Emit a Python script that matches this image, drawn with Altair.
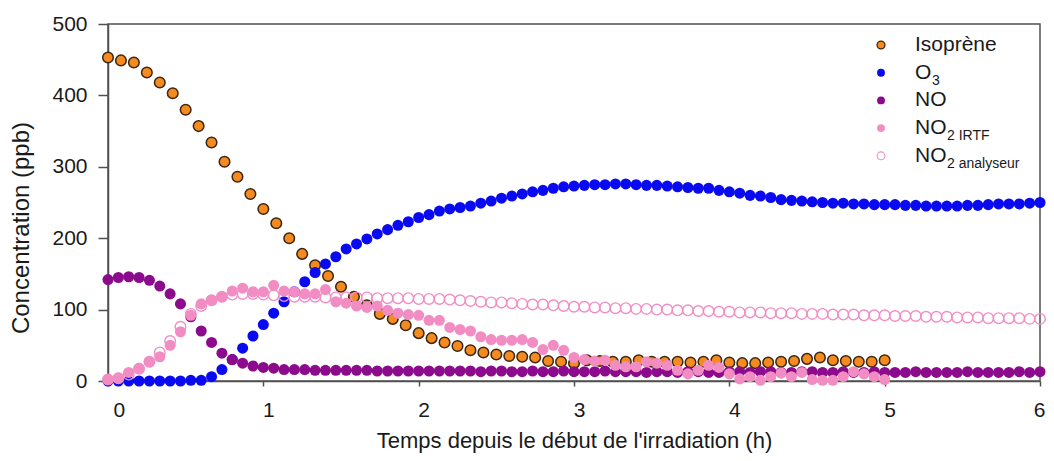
import altair as alt
import pandas as pd

# ---------------- data ----------------
ISO_STEP_H = 5 / 60     # isoprene sampled every 5 min
OTHER_STEP_H = 4 / 60   # other species sampled every 4 min

isoprene = [453, 449, 446, 432, 418, 403, 380, 357, 334, 307,
            286, 262, 241, 221, 200, 178, 162, 147, 132, 118,
            106, 94, 87, 78, 67, 60, 54, 49, 43, 40,
            37, 35, 34, 33, 28, 27, 25, 29, 28, 27,
            27, 29, 27, 27, 27, 26, 27, 29, 26, 25,
            25, 26, 27, 28, 31, 33, 29, 28, 27, 27, 29]

o3 = [0, 0, 0, 0, 0, 0, 0, 0, 1, 1,
      6, 16, 30, 46, 63, 79, 95, 111, 125, 139,
      152, 164, 174, 185, 192, 199, 206, 212, 218, 223,
      229, 233, 238, 241, 243, 245, 249, 252, 256, 259,
      262, 265, 267, 270, 272, 273, 274, 275, 275, 276,
      276, 275, 274, 274, 273, 272, 271, 270, 270, 267,
      265, 263, 260, 259, 257, 254, 253, 252, 251, 250,
      249, 249, 248, 248, 247, 247, 247, 246, 246, 245,
      245, 245, 245, 246, 246, 247, 248, 248, 248, 249, 250]

no = [142, 145, 146, 145, 141, 133, 122, 108, 90, 70,
      54, 39, 30, 25, 21, 19, 18, 16, 16, 16,
      15, 15, 15, 15, 15, 15, 14, 14, 14, 14,
      14, 14, 14, 14, 14, 14, 13, 14, 14, 13,
      13, 14, 13, 13, 14, 13, 13, 13, 14, 13,
      13, 13, 12, 13, 13, 12, 13, 13, 12, 12,
      13, 13, 12, 13, 13, 12, 12, 13, 13, 12,
      12, 13, 12, 12, 13, 12, 12, 12, 13, 12,
      12, 12, 12, 13, 12, 12, 12, 12, 13, 12, 13]

no2_irtf = [2, 4, 12, 18, 27, 34, 50, 69, 92, 108,
            113, 118, 126, 130, 125, 125, 134, 126, 125, 122,
            122, 128, 111, 109, 105, 103, 105, 99, 95, 93,
            92, 85, 85, 75, 72, 70, 62, 58, 57, 57,
            58, 54, 44, 50, 43, 33, 30, 28, 29, 22,
            20, 20, 27, 25, 22, 15, 10, 15, 22, 19,
            10, 3, 6, 1, 6, 11, 6, 12, 2, 1,
            1, 6, 13, 10, 6, 2]

no2_analyseur = [2, 4, 9, 17, 27, 40, 56, 76, 94, 105,
                 113, 118, 121, 122, 122, 121, 120, 119, 118, 118,
                 118, 117, 117, 117, 117, 117, 116, 116, 116, 116,
                 115, 115, 115, 114, 113, 112, 111, 110, 110, 109,
                 108, 107, 107, 106, 105, 104, 104, 103, 103, 102,
                 102, 101, 101, 100, 100, 99, 99, 98, 98, 97,
                 97, 96, 96, 96, 95, 95, 95, 94, 94, 94,
                 93, 93, 93, 92, 92, 92, 91, 91, 91, 90,
                 90, 90, 89, 89, 89, 88, 88, 88, 88, 87, 87]

x_ticks = [0, 1, 2, 3, 4, 5, 6]
y_ticks = [0, 100, 200, 300, 400, 500]

X_TITLE = "Temps depuis le début de l'irradiation (h)"
Y_TITLE = "Concentration (ppb)"

# ---------------- styling ----------------
FONT = "Liberation Sans"
C_ISO = "#f58a1f"
C_ISO_EDGE = "#3a2612"
C_O3 = "#0a0af0"
C_NO = "#8c0a8c"
C_PINK = "#f28dc4"
AX = "#505050"
TXT = "#1a1a1a"

W, H = 932, 357


def frame(values, step):
    return pd.DataFrame({"t": [round(i * step, 5) for i in range(len(values))],
                         "c": values})


x_enc = alt.X("t:Q",
              scale=alt.Scale(domain=[0, 6], nice=False, zero=False),
              axis=alt.Axis(values=x_ticks, format="d", title=X_TITLE,
                            grid=False, tickSize=5, labelPadding=13,
                            labelOffset=5, labelFontSize=21, titleFontSize=22,
                            titleFontWeight="normal", titleAnchor="middle",
                            titleX=W / 2, titleY=71, titleBaseline="bottom"))
y_enc = alt.Y("c:Q",
              scale=alt.Scale(domain=[0, 500], nice=False),
              axis=alt.Axis(values=y_ticks, title=Y_TITLE, grid=False,
                            tickSize=10, labelPadding=11, labelFontSize=21,
                            titleFontSize=24, titleFontWeight="normal",
                            titleX=-87, titleY=H / 2 + 25,
                            titleBaseline="middle", titleAngle=270))

PT = 112

l_iso = alt.Chart(frame(isoprene, ISO_STEP_H)).mark_point(
    shape="circle", filled=True, fill=C_ISO, stroke=C_ISO_EDGE,
    strokeWidth=1.5, size=PT, opacity=1).encode(x=x_enc, y=y_enc)
l_o3 = alt.Chart(frame(o3, OTHER_STEP_H)).mark_point(
    shape="circle", filled=True, color=C_O3, size=PT + 10, opacity=1
).encode(x=x_enc, y=y_enc)
l_no = alt.Chart(frame(no, OTHER_STEP_H)).mark_point(
    shape="circle", filled=True, color=C_NO, size=PT + 10, opacity=1
).encode(x=x_enc, y=y_enc)
l_irtf = alt.Chart(frame(no2_irtf, OTHER_STEP_H)).mark_point(
    shape="circle", filled=True, color=C_PINK, size=PT + 10, opacity=1
).encode(x=x_enc, y=y_enc)
l_ana = alt.Chart(frame(no2_analyseur, OTHER_STEP_H)).mark_point(
    shape="circle", filled=False, color=C_PINK, strokeWidth=1.4,
    size=PT, opacity=1).encode(x=x_enc, y=y_enc)

one = pd.DataFrame({"a": [0]})

# ---------------- custom legend (subscripts) ----------------
LEG_MX = 773
LEG_TX = 807
LEG_Y0 = 21
LEG_DY = 27.7
LEG_FS = 21
SUB_FS = 14
LEG_PT = 62

legend_rows = [
    ("Isoprène", "", 0, dict(filled=True, fill=C_ISO, stroke=C_ISO_EDGE, strokeWidth=1.3)),
    ("O", "3", 17, dict(filled=True, color=C_O3)),
    ("NO", "", 0, dict(filled=True, color=C_NO)),
    ("NO", "2 IRTF", 32, dict(filled=True, color=C_PINK)),
    ("NO", "2 analyseur", 32, dict(filled=False, color=C_PINK, strokeWidth=1.1)),
]

leg_layers = []
for i, (main, sub, sub_dx, style) in enumerate(legend_rows):
    yy = LEG_Y0 + i * LEG_DY
    leg_layers.append(alt.Chart(one).mark_point(
        shape="circle", size=LEG_PT, opacity=1, **style).encode(
        x=alt.value(LEG_MX), y=alt.value(yy)))
    leg_layers.append(alt.Chart(one).mark_text(
        align="left", baseline="middle", font=FONT, fontSize=LEG_FS,
        color=TXT).encode(x=alt.value(LEG_TX), y=alt.value(yy),
                          text=alt.value(main)))
    if sub:
        leg_layers.append(alt.Chart(one).mark_text(
            align="left", baseline="middle", font=FONT, fontSize=SUB_FS,
            color=TXT).encode(x=alt.value(LEG_TX + sub_dx), y=alt.value(yy + 8),
                              text=alt.value(sub)))

chart = alt.layer(l_iso, l_o3, l_no, l_irtf, l_ana, *leg_layers).properties(
    width=W, height=H, autosize=alt.AutoSizeParams(type="none"),
    padding={"left": 100, "top": 16, "right": 6, "bottom": 72},
    background="white",
).configure_view(stroke=AX, strokeWidth=1.5).configure_axis(
    domainColor=AX, tickColor=AX, labelColor=TXT, titleColor=TXT,
    labelFont=FONT, titleFont=FONT, domainWidth=1.5, tickWidth=1.5)

chart.save("out.html", embed_options={"renderer": "svg", "actions": False})
